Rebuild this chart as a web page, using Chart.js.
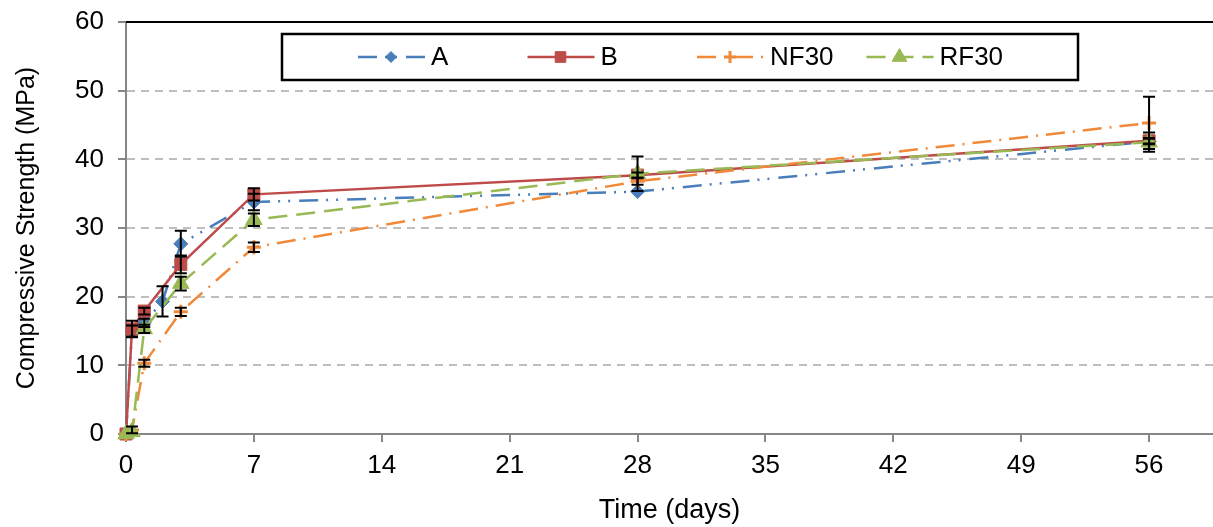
<!DOCTYPE html>
<html>
<head>
<meta charset="utf-8">
<title>Compressive strength</title>
<script src="https://cdn.jsdelivr.net/npm/chart.js@4.4.1/dist/chart.umd.min.js"></script>
<style>
  html, body { margin: 0; padding: 0; background: #fff; }
  #wrap { width: 1213px; height: 527px; position: relative; }
</style>
</head>
<body>
<div id="wrap"><canvas id="strengthChart"></canvas></div>
<script>
// Axis ticks
const xTicks = [0, 7, 14, 21, 28, 35, 42, 49, 56];
const yTicks = [0, 10, 20, 30, 40, 50, 60];

// Mix A
const daysA = [0, 0.33, 1, 2, 3, 7, 28, 56];
const strengthA = [0, 15.0, 16.2, 19.3, 27.7, 33.8, 35.3, 42.6];
const errA = [0, 0.8, 0.6, 2.2, 1.9, 1.2, 0, 0.4];

// Mix B
const daysB = [0, 0.33, 1, 3, 7, 28, 56];
const strengthB = [0, 15.3, 17.9, 24.7, 34.9, 37.7, 42.7];
const errB = [0, 1.2, 0.5, 1.3, 0.9, 0.4, 0.4];

// Mix NF30
const daysNF30 = [0, 0.33, 1, 3, 7, 28, 56];
const strengthNF30 = [0, 0.6, 10.3, 17.8, 27.2, 36.8, 45.3];
const errNF30 = [0, 0.5, 0.5, 0.6, 0.7, 0.5, 3.8];

// Mix RF30
const daysRF30 = [0, 0.33, 1, 3, 7, 28, 56];
const strengthRF30 = [0, 0.3, 15.3, 21.9, 31.2, 37.9, 42.5];
const errRF30 = [0, 0, 0.6, 1.0, 0.9, 2.5, 1.4];

const FONT = 'Arial, "Liberation Sans", sans-serif';
Chart.defaults.font.family = FONT;
Chart.defaults.font.size = 26;
Chart.defaults.color = '#000';

function toPoints(xs, ys) {
    return xs.map((x, i) => ({ x: x, y: ys[i] }));
}

// Draws the black error bars with caps
const errorBarPlugin = {
    id: 'errorBars',
    afterDatasetsDraw(chart) {
        const ctx = chart.ctx;
        const xScale = chart.scales.x;
        const yScale = chart.scales.y;
        ctx.save();
        ctx.strokeStyle = '#000';
        ctx.lineWidth = 2;
        chart.data.datasets.forEach(ds => {
            ds.data.forEach((p, i) => {
                const e = ds.errors[i];
                if (!e) return;
                const px = xScale.getPixelForValue(p.x);
                const top = yScale.getPixelForValue(p.y + e);
                const bot = yScale.getPixelForValue(p.y - e);
                ctx.beginPath();
                ctx.moveTo(px, top); ctx.lineTo(px, bot);
                ctx.moveTo(px - 6, top); ctx.lineTo(px + 6, top);
                ctx.moveTo(px - 6, bot); ctx.lineTo(px + 6, bot);
                ctx.stroke();
            });
        });
        ctx.restore();
    }
};

// Boxed legend inside the plot, plus the black top border
const boxLegendPlugin = {
    id: 'boxLegend',
    afterDraw(chart) {
        const ctx = chart.ctx;
        const area = chart.chartArea;
        ctx.save();
        ctx.strokeStyle = '#000';
        ctx.lineWidth = 2;
        ctx.beginPath();
        ctx.moveTo(area.left, area.top);
        ctx.lineTo(area.right, area.top);
        ctx.stroke();

        const boxX = area.left + 156, boxY = area.top + 12, boxW = 796, boxH = 46;
        ctx.lineWidth = 2.5;
        ctx.strokeRect(boxX, boxY, boxW, boxH);

        const cy = boxY + boxH / 2;
        chart.data.datasets.forEach((ds, i) => {
            const x0 = boxX + 76 + i * 169.5;
            ctx.save();
            ctx.strokeStyle = ds.borderColor;
            ctx.lineWidth = ds.borderWidth;
            ctx.setLineDash(ds.borderDash || []);
            ctx.beginPath();
            ctx.moveTo(x0, cy);
            ctx.lineTo(x0 + 67, cy);
            ctx.stroke();
            ctx.setLineDash([]);
            ctx.fillStyle = ds.pointBackgroundColor;
            ctx.lineWidth = ds.pointBorderWidth;
            Chart.helpers.drawPoint(ctx, {
                pointStyle: ds.pointStyle,
                radius: ds.legendRadius,
                borderWidth: ds.pointBorderWidth
            }, x0 + 33, cy);
            ctx.restore();
            ctx.fillStyle = '#000';
            ctx.font = '26px ' + FONT;
            ctx.textBaseline = 'middle';
            ctx.fillText(ds.label, x0 + 73, cy + 1);
        });
        ctx.restore();
    }
};

const ctx = document.getElementById('strengthChart').getContext('2d');
new Chart(ctx, {
    type: 'line',
    data: {
        datasets: [
            {
                label: 'A',
                data: toPoints(daysA, strengthA),
                errors: errA,
                borderColor: '#4A7EBB',
                pointBackgroundColor: '#4A7EBB',
                pointBorderColor: '#4A7EBB',
                borderWidth: 2.5,
                borderDash: [19, 8, 2, 8, 2, 9],
                pointStyle: 'rectRot',
                pointRadius: 7,
                legendRadius: 5.5,
                pointBorderWidth: 1,
                order: 4
            },
            {
                label: 'B',
                data: toPoints(daysB, strengthB),
                errors: errB,
                borderColor: '#BE4B48',
                pointBackgroundColor: '#BE4B48',
                pointBorderColor: '#BE4B48',
                borderWidth: 2.5,
                pointStyle: 'rect',
                pointRadius: 8.5,
                legendRadius: 7.5,
                pointBorderWidth: 1,
                order: 3
            },
            {
                label: 'NF30',
                data: toPoints(daysNF30, strengthNF30),
                errors: errNF30,
                borderColor: '#F08A3A',
                pointBackgroundColor: '#F08A3A',
                pointBorderColor: '#F08A3A',
                borderWidth: 2.5,
                borderDash: [19, 8, 2, 8],
                pointStyle: 'cross',
                pointRadius: 7,
                legendRadius: 6,
                pointBorderWidth: 3,
                order: 2
            },
            {
                label: 'RF30',
                data: toPoints(daysRF30, strengthRF30),
                errors: errRF30,
                borderColor: '#98B954',
                pointBackgroundColor: '#98B954',
                pointBorderColor: '#98B954',
                borderWidth: 2.5,
                borderDash: [19, 9],
                pointStyle: 'triangle',
                pointRadius: 9.5,
                legendRadius: 8.5,
                pointBorderWidth: 1,
                order: 1
            }
        ]
    },
    options: {
        responsive: true,
        maintainAspectRatio: false,
        animation: false,
        clip: false,
        layout: { autoPadding: false, padding: { top: 22, right: 0, left: 0, bottom: 0 } },
        plugins: {
            legend: { display: false },
            tooltip: { enabled: false }
        },
        elements: { line: { tension: 0, fill: false } },
        scales: {
            x: {
                type: 'linear',
                min: 0,
                max: 59.5,
                afterBuildTicks: axis => { axis.ticks = xTicks.map(v => ({ value: v })); },
                afterFit: axis => { axis.height = 93; axis.paddingLeft = 0; axis.paddingRight = 0; },
                ticks: { padding: 8, maxRotation: 0, autoSkip: false },
                grid: {
                    drawOnChartArea: false,
                    tickLength: 8,
                    tickColor: '#868686',
                    lineWidth: 2
                },
                border: { color: '#868686', width: 2 },
                title: {
                    display: true,
                    text: 'Time (days)',
                    font: { size: 27 },
                    padding: { top: 0, bottom: 0 }
                }
            },
            y: {
                min: 0,
                max: 60,
                afterBuildTicks: axis => { axis.ticks = yTicks.map(v => ({ value: v })); },
                afterFit: axis => { axis.width = 126; axis.paddingTop = 0; axis.paddingBottom = 0; },
                ticks: { padding: 14 },
                grid: {
                    color: c => (c.tick && c.tick.value === 60) ? 'rgba(0,0,0,0)' : '#BFBFBF',
                    lineWidth: 2,
                    tickLength: 8,
                    tickColor: '#868686',
                    tickBorderDash: [1, 0]
                },
                border: { color: '#868686', width: 2, dash: [8, 6] },
                title: {
                    display: true,
                    text: 'Compressive Strength (MPa)',
                    font: { size: 25 },
                    padding: { top: 12, bottom: 0 }
                }
            }
        }
    },
    plugins: [errorBarPlugin, boxLegendPlugin]
});
</script>
</body>
</html>
